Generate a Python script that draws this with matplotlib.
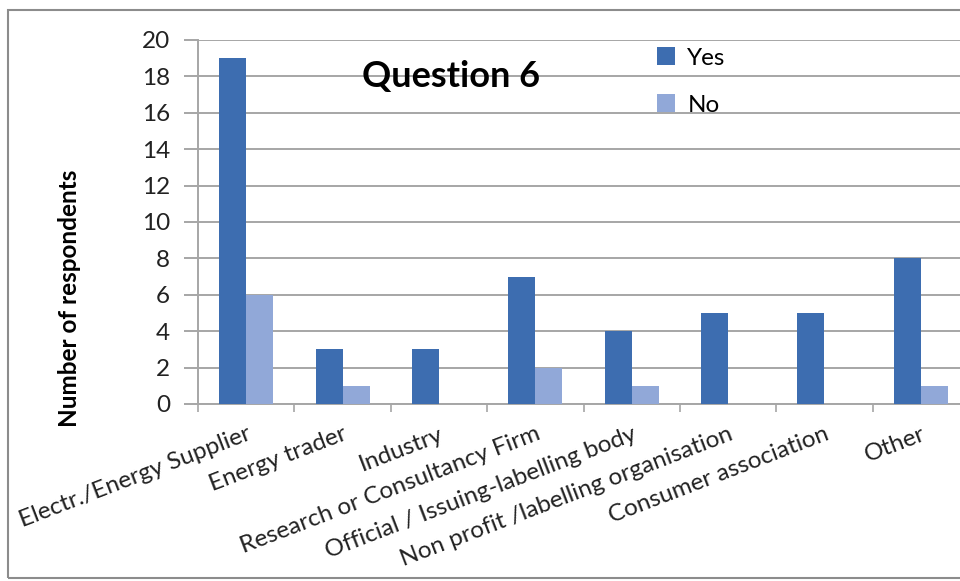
import matplotlib.pyplot as plt
import matplotlib.patches as mpatches
import numpy as np

categories = ['Electr./Energy Supplier', 'Energy trader', 'Industry',
              'Research or Consultancy Firm', 'Official / Issuing-labelling body',
              'Non profit /labelling organisation', 'Consumer association', 'Other']
yes = [19, 3, 3, 7, 4, 5, 5, 8]
no = [6, 1, 0, 2, 1, 0, 0, 1]

plt.rcParams['font.family'] = ['Lato', 'DejaVu Sans']

fig = plt.figure(figsize=(9.6, 5.81), dpi=100)
# chart frame
fig.patches.append(mpatches.Rectangle((8 / 960, 3 / 581), 1.2, 568 / 581,
                                      transform=fig.transFigure, fill=False,
                                      edgecolor='#8c8c8c', linewidth=1.5))

ax = fig.add_axes([198 / 960, 1 - 404 / 581, 771 / 960, 364 / 581])

x = np.arange(len(categories))
w = 0.28
ax.bar(x - w / 2, yes, w, color='#3d6db0', label='Yes', zorder=3)
ax.bar(x + w / 2, no, w, color='#91a8d8', label='No', zorder=3)

ax.set_xlim(-0.5, len(categories) - 0.5)
ax.set_ylim(0, 20)
ax.set_yticks(np.arange(0, 21, 2))
ax.yaxis.grid(True, color='#a6a6a6', linewidth=1.4, zorder=0)

for s in ['top', 'right']:
    ax.spines[s].set_visible(False)
for s in ['left', 'bottom']:
    ax.spines[s].set_color('#a6a6a6')
    ax.spines[s].set_linewidth(1.4)

ax.tick_params(axis='y', length=10, width=1.4, color='#a6a6a6', pad=10,
               labelsize=17.5, labelcolor='#222222')
ax.set_xticks(x)
ax.set_xticklabels(categories, rotation=21, ha='right', va='top',
                   rotation_mode='anchor', fontsize=17.5, color='#222222')
ax.tick_params(axis='x', which='major', length=0, pad=14)
ax.set_xticks(np.arange(-0.5, len(categories), 1), minor=True)
ax.tick_params(axis='x', which='minor', length=6, width=1.2, color='#a6a6a6')

ax.set_ylabel('Number of respondents', fontsize=17.5, fontweight='bold')
ax.yaxis.set_label_coords(-0.152, 0.29)

ax.text(2.13, 18, 'Question 6', fontsize=26, fontweight='bold',
        va='center', ha='center', zorder=4)

ax.legend(loc='upper left', bbox_to_anchor=(0.567, 1.04), frameon=False,
          fontsize=17.5, handlelength=0.75, handleheight=0.75, handletextpad=0.5,
          labelspacing=1.05)

fig.savefig('out.png', dpi=100)
